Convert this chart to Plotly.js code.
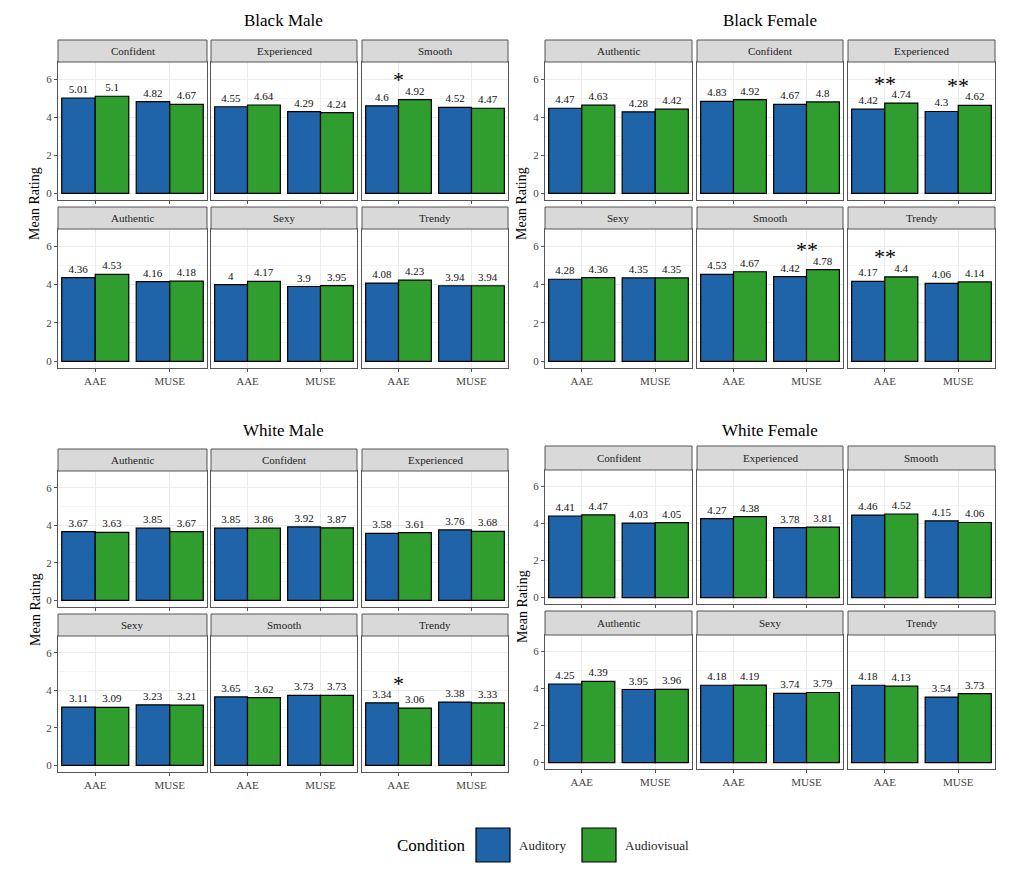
<!DOCTYPE html>
<html>
<head>
<meta charset="utf-8">
<script src="https://cdn.plot.ly/plotly-3.0.1.min.js"></script>
<style>html,body{margin:0;padding:0;background:#fff}#chart{width:1023px;height:875px}</style>
</head>
<body>
<div id="chart"></div>
<script>
var CATEGORIES = ["AAE", "MUSE"];
var GROUPS = ["Black Male", "Black Female", "White Male", "White Female"];

var BM_FACETS = ["Confident", "Experienced", "Smooth", "Authentic", "Sexy", "Trendy"];
var BM_AUD = [[5.01, 4.82], [4.55, 4.29], [4.6, 4.52], [4.36, 4.16], [4, 3.9], [4.08, 3.94]];
var BM_AV = [[5.1, 4.67], [4.64, 4.24], [4.92, 4.47], [4.53, 4.18], [4.17, 3.95], [4.23, 3.94]];
var BM_SIG = [["", ""], ["", ""], ["*", ""], ["", ""], ["", ""], ["", ""]];

var BF_FACETS = ["Authentic", "Confident", "Experienced", "Sexy", "Smooth", "Trendy"];
var BF_AUD = [[4.47, 4.28], [4.83, 4.67], [4.42, 4.3], [4.28, 4.35], [4.53, 4.42], [4.17, 4.06]];
var BF_AV = [[4.63, 4.42], [4.92, 4.8], [4.74, 4.62], [4.36, 4.35], [4.67, 4.78], [4.4, 4.14]];
var BF_SIG = [["", ""], ["", ""], ["**", "**"], ["", ""], ["", "**"], ["**", ""]];

var WM_FACETS = ["Authentic", "Confident", "Experienced", "Sexy", "Smooth", "Trendy"];
var WM_AUD = [[3.67, 3.85], [3.85, 3.92], [3.58, 3.76], [3.11, 3.23], [3.65, 3.73], [3.34, 3.38]];
var WM_AV = [[3.63, 3.67], [3.86, 3.87], [3.61, 3.68], [3.09, 3.21], [3.62, 3.73], [3.06, 3.33]];
var WM_SIG = [["", ""], ["", ""], ["", ""], ["", ""], ["", ""], ["*", ""]];

var WF_FACETS = ["Confident", "Experienced", "Smooth", "Authentic", "Sexy", "Trendy"];
var WF_AUD = [[4.41, 4.03], [4.27, 3.78], [4.46, 4.15], [4.25, 3.95], [4.18, 3.74], [4.18, 3.54]];
var WF_AV = [[4.47, 4.05], [4.38, 3.81], [4.52, 4.06], [4.39, 3.96], [4.19, 3.79], [4.13, 3.73]];
var WF_SIG = [["", ""], ["", ""], ["", ""], ["", ""], ["", ""], ["", ""]];

var BLUE = "#1f63a8", GREEN = "#2f9e2f";
var FONT = "Liberation Serif, Times New Roman, serif";
var W = 1023, H = 875;

// pixel layout of each group: column x ranges, rows [stripTop, plotTop, plotBottom]
var GEOM = [
  { cols: [[58, 207], [211, 357], [362, 508]], rows: [[40, 62, 200], [207, 229, 368]], title: [283, 20], ylab: [35, 204] },
  { cols: [[545, 692], [697, 843], [848, 995]], rows: [[40, 62, 200], [207, 229, 368]], title: [770, 20], ylab: [522, 204] },
  { cols: [[58, 207], [211, 357], [362, 508]], rows: [[449, 471, 607], [614, 636, 772]], title: [283, 430], ylab: [35, 610] },
  { cols: [[545, 692], [697, 843], [848, 995]], rows: [[446, 470, 604], [611, 635, 769]], title: [770, 430], ylab: [522, 607] }
];
var DATA = [
  [BM_FACETS, BM_AUD, BM_AV, BM_SIG],
  [BF_FACETS, BF_AUD, BF_AV, BF_SIG],
  [WM_FACETS, WM_AUD, WM_AV, WM_SIG],
  [WF_FACETS, WF_AUD, WF_AV, WF_SIG]
];

function px(x) { return x / W; }
function py(y) { return 1 - y / H; }
function label(x, y, text, font, extra) {
  var a = { xref: "paper", yref: "paper", x: px(x), y: py(y), text: text, showarrow: false,
    xanchor: "center", yanchor: "middle", font: font };
  for (var k in extra || {}) a[k] = extra[k];
  return a;
}

var traces = [], shapes = [], annotations = [];
var layout = {
  width: W, height: H, margin: { l: 0, r: 0, t: 0, b: 0 },
  paper_bgcolor: "#fff", plot_bgcolor: "#fff",
  font: { family: FONT, size: 11, color: "#222" },
  barmode: "group", bargap: 0.1, bargroupgap: 0, showlegend: false
};

var n = 0;
DATA.forEach(function (d, g) {
  var geo = GEOM[g];
  annotations.push(label(geo.title[0], geo.title[1], GROUPS[g], { size: 17, color: "#000" }));
  annotations.push(label(geo.ylab[0], geo.ylab[1], "Mean Rating", { size: 14, color: "#000" }, { textangle: -90 }));
  for (var f = 0; f < 6; f++) {
    n++;
    var col = geo.cols[f % 3], row = geo.rows[Math.floor(f / 3)];
    var xa = "x" + (n === 1 ? "" : n), ya = "y" + (n === 1 ? "" : n);
    var axKey = n === 1 ? "" : n;
    var aud = d[1][f], av = d[2][f];
    [[aud, BLUE, "Auditory"], [av, GREEN, "Audiovisual"]].forEach(function (s) {
      traces.push({
        type: "bar", x: CATEGORIES, y: s[0], name: s[2], xaxis: xa, yaxis: ya,
        marker: { color: s[1], line: { color: "#000", width: 1.2 } },
        text: s[0].map(String), textposition: "outside", cliponaxis: false,
        textfont: { size: 11, color: "#111", family: FONT }, hoverinfo: "x+y"
      });
    });
    d[3][f].forEach(function (sig, i) {
      if (!sig) return;
      annotations.push({ xref: xa, yref: ya, x: CATEGORIES[i], y: Math.max(aud[i], av[i]) + 1.05,
        xanchor: "center", yanchor: "middle",
        text: sig, showarrow: false, font: { size: 22, color: "#000" } });
    });
    layout["xaxis" + axKey] = {
      domain: [px(col[0]), px(col[1])], anchor: ya, showline: true, mirror: true,
      linecolor: "#555", linewidth: 1, showgrid: true, gridcolor: "#ebebeb",
      ticks: "outside", ticklen: 3, tickcolor: "#555",
      showticklabels: f >= 3, tickfont: { size: 11, color: "#444" }, fixedrange: true
    };
    layout["yaxis" + axKey] = {
      domain: [py(row[2]), py(row[1])], anchor: xa, range: [-0.35, 6.9],
      tickvals: [0, 2, 4, 6], showline: true, mirror: true, linecolor: "#555", linewidth: 1,
      showgrid: true, gridcolor: "#ebebeb", zeroline: false,
      minor: { tickvals: [1, 3, 5], showgrid: true, gridcolor: "#f4f4f4" },
      ticks: f % 3 === 0 ? "outside" : "", ticklen: 3, tickcolor: "#555",
      showticklabels: f % 3 === 0, tickfont: { size: 11, color: "#444" }, fixedrange: true
    };
    shapes.push({ type: "rect", xref: "paper", yref: "paper", x0: px(col[0]), x1: px(col[1]),
      y0: py(row[1]), y1: py(row[0]), fillcolor: "#d9d9d9", line: { color: "#555", width: 1 } });
    annotations.push(label((col[0] + col[1]) / 2, (row[0] + row[1]) / 2, d[0][f], { size: 11, color: "#222" }));
  }
});

// legend
annotations.push(label(468, 845, "Condition", { size: 17, color: "#000" }, { xanchor: "right" }));
[[476, BLUE, "Auditory"], [582, GREEN, "Audiovisual"]].forEach(function (l) {
  shapes.push({ type: "rect", xref: "paper", yref: "paper", x0: px(l[0]), x1: px(l[0] + 34),
    y0: py(862), y1: py(828), fillcolor: l[1], line: { color: "#000", width: 1.2 } });
  annotations.push(label(l[0] + 41, 845, l[2], { size: 13, color: "#222" }, { xanchor: "left" }));
});

layout.shapes = shapes;
layout.annotations = annotations;
Plotly.newPlot("chart", traces, layout, { displayModeBar: false, staticPlot: true });
</script>
</body>
</html>
